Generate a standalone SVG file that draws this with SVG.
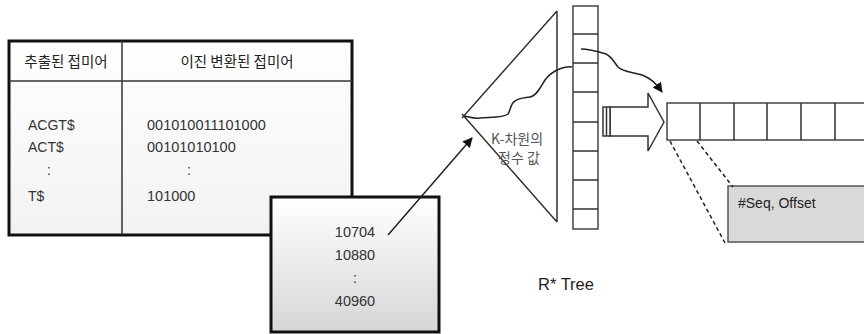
<svg xmlns="http://www.w3.org/2000/svg" width="864" height="334" viewBox="0 0 864 334">
<defs>
<linearGradient id="g1" x1="0" y1="0" x2="0" y2="1">
<stop offset="0" stop-color="#ffffff"/>
<stop offset="1" stop-color="#d6d6d6"/>
</linearGradient>
<linearGradient id="g0" x1="0" y1="0" x2="0" y2="1">
<stop offset="0" stop-color="#ffffff"/>
<stop offset="1" stop-color="#f2f2f2"/>
</linearGradient>
<marker id="ah" viewBox="0 0 10 10" refX="9" refY="5" markerWidth="10" markerHeight="10" markerUnits="userSpaceOnUse" orient="auto">
<path d="M0,0 L10,5 L0,10 Z" fill="#111"/>
</marker>
</defs>
<style>
.t{font-family:"Liberation Sans","Noto Sans CJK KR",sans-serif;fill:#333;font-size:14px}
.k{font-family:"Noto Sans CJK KR","Liberation Sans",sans-serif;fill:#222;font-size:14.5px}
.thin{fill:none;stroke:#333;stroke-width:1.5}
.cell{fill:#fff;stroke:#444;stroke-width:1.5}
.conn{fill:none;stroke:#222;stroke-width:1.5}
</style>
<rect width="864" height="334" fill="#fff"/>
<g id="table">
<rect x="9" y="41" width="343" height="194" fill="url(#g0)" stroke="#111" stroke-width="3"/>
<line x1="9" y1="81" x2="352" y2="81" class="thin"/>
<line x1="122" y1="41" x2="122" y2="235" class="thin"/>
<text class="k" x="66" y="67" text-anchor="middle">추출된 접미어</text>
<text class="k" x="237" y="67" text-anchor="middle">이진 변환된 접미어</text>
<text class="t" x="28" y="130">ACGT$</text>
<text class="t" x="28" y="152">ACT$</text>
<text class="t" x="47" y="175">:</text>
<text class="t" x="28" y="201">T$</text>
<text class="t" x="147" y="130" style="font-size:14.5px">001010011101000</text>
<text class="t" x="147" y="152" style="font-size:14.5px">00101010100</text>
<text class="t" x="187" y="175">:</text>
<text class="t" x="147" y="201" style="font-size:14.5px">101000</text>
</g>
<g id="keys">
<rect x="271" y="197" width="168" height="135" fill="url(#g1)" stroke="#111" stroke-width="3"/>
<text class="t" x="355" y="237" text-anchor="middle" style="font-size:14.5px">10704</text>
<text class="t" x="355" y="260" text-anchor="middle" style="font-size:14.5px">10880</text>
<text class="t" x="355" y="283" text-anchor="middle">:</text>
<text class="t" x="355" y="306" text-anchor="middle" style="font-size:14.5px">40960</text>
</g>
<g id="rtree">
<path d="M557,11 L462,118 M462,114 L557,222 M557,11 L557,222" class="thin"/>
<text class="k" x="517" y="144" text-anchor="middle" style="fill:#555;font-size:14px">K-차원의</text>
<text class="k" x="519" y="163" text-anchor="middle" style="fill:#555;font-size:14px">정수 값</text>
<rect x="573" y="6" width="25" height="223" class="cell"/>
<path d="M573,34 H598 M573,63 H598 M573,92 H598 M573,122 H598 M573,151 H598 M573,180 H598 M573,209 H598" class="thin"/>
<text class="t" x="566" y="290" text-anchor="middle" style="font-size:16.5px;fill:#222">R* Tree</text>
</g>
<g id="leaf">
<rect x="667" y="103" width="200" height="37" class="cell"/>
<path d="M700,103 V140 M734,103 V140 M767,103 V140 M801,103 V140 M835,103 V140" class="thin"/>
</g>
<g id="entry">
<rect x="728" y="186" width="140" height="56" fill="#d9d9d9" stroke="#555" stroke-width="1.5"/>
<text class="t" x="738" y="208" style="fill:#222">#Seq, Offset</text>
</g>
<g id="connectors">
<line x1="388" y1="235" x2="472" y2="138" class="conn" marker-end="url(#ah)"/>
<path d="M464,116 C470,117 474,119 480,118 C490,117 503,118 508,114 C511,110 510,104 515,101 C519,98 524,98 530,97 C537,96 541,86 545,80 C548,76 551,73 557,70 C562,68 567,66 572,67" class="conn"/>
<path d="M581,49 C588,49 596,51 606,54 C612,57 614,62 618,67 C623,72 632,72 642,75 C650,78 655,82 662,92" class="conn" marker-end="url(#ah)"/>
<path d="M610,107 H648 V93 L664,122 L648,151 V136 H610 Z" fill="#fff" stroke="#333" stroke-width="1.5"/>
<path d="M603,107 H610 V136 H603 Z M606.5,107 V136" fill="#fff" stroke="#333" stroke-width="1.5"/>
<line x1="670" y1="141" x2="725" y2="243" stroke="#222" stroke-width="1.5" stroke-dasharray="4,3"/>
<line x1="697" y1="141" x2="733" y2="187" stroke="#222" stroke-width="1.5" stroke-dasharray="4,3"/>
</g>
</svg>
